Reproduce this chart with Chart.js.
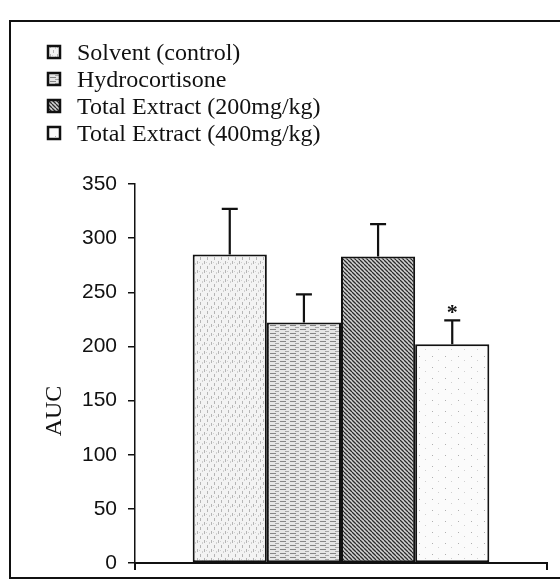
<!DOCTYPE html>
<html>
<head>
<meta charset="utf-8">
<script src="https://cdn.jsdelivr.net/npm/chart.js@4.4.0/dist/chart.umd.min.js"></script>
<style>
  html, body { margin: 0; padding: 0; background: #fff; }
  #wrap { width: 560px; height: 587px; }
</style>
</head>
<body>
<div id="wrap"><canvas id="aucChart"></canvas></div>
<script>
// grupos e valores
const groups = ['Solvent (control)', 'Hydrocortisone', 'Total Extract (200mg/kg)', 'Total Extract (400mg/kg)'];
const aucMean = [285, 222, 283, 202];
const aucError = [42, 26, 30, 22];
const significant = [false, false, false, true];
const yMax = 350;
const yStep = 50;
const yTitle = 'AUC';

// texturas das barras (imitando o preto e branco do artigo)
function makePattern(w, h, bg, draw) {
    const c = document.createElement('canvas');
    c.width = w;
    c.height = h;
    const g = c.getContext('2d');
    g.fillStyle = bg;
    g.fillRect(0, 0, w, h);
    draw(g);
    return g.createPattern(c, 'repeat');
}

const fills = [
    makePattern(7, 9, '#f3f3f3', g => {
        g.fillStyle = '#b5b5b5';
        g.fillRect(1, 0, 1, 3);
        g.fillRect(4, 5, 1, 3);
        g.fillStyle = '#d0d0d0';
        g.fillRect(6, 2, 1, 2);
        g.fillRect(3, 1, 1, 1);
    }),
    makePattern(10, 4, '#e6e6e6', g => {
        g.fillStyle = '#858585';
        g.fillRect(0, 1, 6, 1);
        g.fillStyle = '#a5a5a5';
        g.fillRect(5, 3, 4, 1);
    }),
    makePattern(4, 4, '#d2d2d2', g => {
        g.strokeStyle = '#2a2a2a';
        g.lineWidth = 1.3;
        g.beginPath();
        for (let k = -4; k <= 4; k += 4) {
            g.moveTo(0, k);
            g.lineTo(4, 4 + k);
        }
        g.stroke();
    }),
    makePattern(13, 11, '#fbfbfb', g => {
        g.fillStyle = '#b0b0b0';
        g.fillRect(3, 4, 1, 1);
        g.fillStyle = '#d0d0d0';
        g.fillRect(9, 8, 1, 1);
    })
];

// moldura da figura
const framePlugin = {
    id: 'frame',
    beforeDraw(chart) {
        const c = chart.ctx;
        c.save();
        c.fillStyle = '#fff';
        c.fillRect(0, 0, chart.width, chart.height);
        c.strokeStyle = '#111';
        c.lineWidth = 2;
        c.beginPath();
        c.moveTo(chart.width + 2, 21);
        c.lineTo(10, 21);
        c.lineTo(10, 578);
        c.lineTo(chart.width + 2, 578);
        c.stroke();
        c.restore();
    }
};

// barras de erro (só o lado de cima), asterisco e título do eixo y
const errorPlugin = {
    id: 'errorBars',
    afterDatasetsDraw(chart) {
        const c = chart.ctx;
        const y = chart.scales.y;
        c.save();
        c.strokeStyle = '#111';
        c.lineWidth = 2.2;
        chart.data.datasets.forEach((ds, i) => {
            const bar = chart.getDatasetMeta(i).data[0];
            const top = y.getPixelForValue(aucMean[i] + aucError[i]);
            c.beginPath();
            c.moveTo(bar.x, bar.y);
            c.lineTo(bar.x, top);
            c.moveTo(bar.x - 8, top);
            c.lineTo(bar.x + 8, top);
            c.stroke();
            if (significant[i]) {
                c.fillStyle = '#111';
                c.font = 'bold 22px "Liberation Serif"';
                c.textAlign = 'center';
                c.textBaseline = 'alphabetic';
                c.fillText('*', bar.x, top - 1);
            }
        });
        // título "AUC" um pouco abaixo do meio do eixo, como no original
        c.translate(55, 411);
        c.rotate(-Math.PI / 2);
        c.fillStyle = '#111';
        c.font = '24px "Liberation Serif"';
        c.textAlign = 'center';
        c.textBaseline = 'middle';
        c.fillText(yTitle, 0, 0);
        c.restore();
    }
};

// legenda em coluna, no canto superior esquerdo
const legendPlugin = {
    id: 'columnLegend',
    afterDraw(chart) {
        const c = chart.ctx;
        c.save();
        chart.data.datasets.forEach((ds, i) => {
            const cy = 52 + i * 27;
            c.fillStyle = ds.backgroundColor;
            c.fillRect(48, cy - 6, 12, 12);
            c.strokeStyle = '#111';
            c.lineWidth = 2.5;
            c.strokeRect(48, cy - 6, 12, 12);
            c.fillStyle = '#111';
            c.font = '24px "Liberation Serif"';
            c.textAlign = 'left';
            c.textBaseline = 'alphabetic';
            c.fillText(ds.label, 77, cy + 8);
        });
        c.restore();
    }
};

const ctx = document.getElementById('aucChart').getContext('2d');

const aucChart = new Chart(ctx, {
    type: 'bar',
    data: {
        labels: [''],
        datasets: groups.map((g, i) => ({
            label: g,
            data: [aucMean[i]],
            backgroundColor: fills[i],
            borderColor: '#111',
            borderWidth: 2,
            borderSkipped: false,
            categoryPercentage: 0.72,
            barPercentage: 1
        }))
    },
    options: {
        responsive: true,
        maintainAspectRatio: false,
        animation: false,
        layout: {
            padding: { top: 184, left: 10, right: 13, bottom: 14 }
        },
        plugins: {
            legend: { display: false },
            tooltip: { enabled: false }
        },
        scales: {
            x: {
                afterFit: s => { s.height = 10; },
                ticks: { display: false },
                grid: {
                    drawOnChartArea: false,
                    drawTicks: true,
                    tickLength: 7,
                    color: '#111',
                    lineWidth: 2
                },
                border: { color: '#111', width: 2 }
            },
            y: {
                min: 0,
                max: yMax,
                afterFit: s => { s.width = 125; },
                ticks: {
                    stepSize: yStep,
                    color: '#111',
                    padding: 11,
                    font: { family: 'Liberation Sans', size: 21 }
                },
                grid: {
                    drawOnChartArea: false,
                    tickLength: 7,
                    color: '#111',
                    lineWidth: 1.5
                },
                border: { color: '#111', width: 1.5 }
            }
        }
    },
    plugins: [framePlugin, errorPlugin, legendPlugin]
});
</script>
</body>
</html>
